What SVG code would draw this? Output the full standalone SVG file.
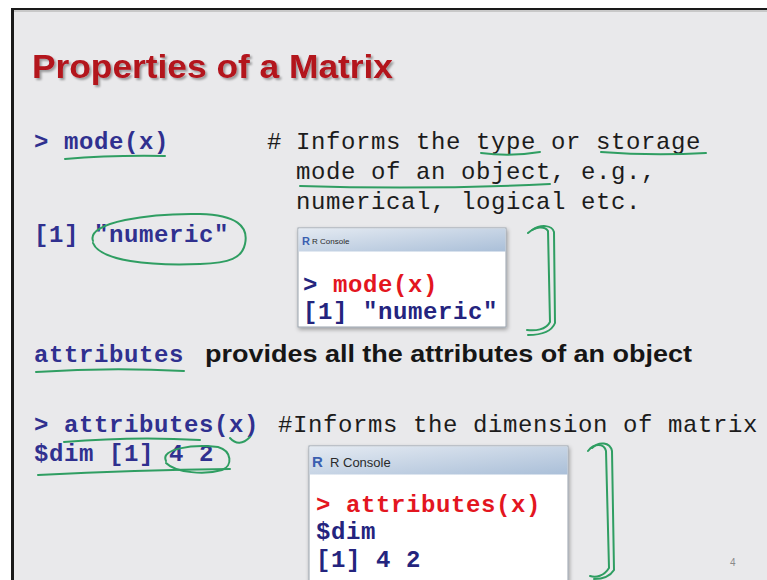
<svg xmlns="http://www.w3.org/2000/svg" width="767" height="580" viewBox="0 0 767 580">
<defs>
<linearGradient id="bar" x1="0" y1="0" x2="1" y2="1">
<stop offset="0" stop-color="#e4eaf2"/>
<stop offset="1" stop-color="#aabfd8"/>
</linearGradient>
<filter id="sh" x="-10%" y="-10%" width="120%" height="130%">
<feGaussianBlur in="SourceAlpha" stdDeviation="2"/>
<feOffset dx="1" dy="2"/>
<feComponentTransfer><feFuncA type="linear" slope="0.35"/></feComponentTransfer>
<feMerge><feMergeNode/><feMergeNode in="SourceGraphic"/></feMerge>
</filter>
<filter id="tsh" x="-5%" y="-20%" width="110%" height="150%">
<feGaussianBlur in="SourceAlpha" stdDeviation="1"/>
<feOffset dx="1.5" dy="1.5"/>
<feComponentTransfer><feFuncA type="linear" slope="0.35"/></feComponentTransfer>
<feMerge><feMergeNode/><feMergeNode in="SourceGraphic"/></feMerge>
</filter>
</defs>
<style>
.code{font-family:"Liberation Mono","Courier New",monospace;font-weight:bold;font-size:24px;letter-spacing:0.6px;fill:#30308f}
.cmt{font-family:"Liberation Mono","Courier New",monospace;font-size:24px;letter-spacing:0.6px;fill:#1c1c1c}
.red{fill:#e3161f}
.navy{fill:#24247e}
.sans{font-family:"Liberation Sans",Arial,sans-serif;font-weight:bold}
.ink{fill:none;stroke:#2f9e62;stroke-width:2;stroke-linecap:round;stroke-linejoin:round}
.box{fill:#ffffff;stroke:#9aa3ad;stroke-width:1}
.ttl{font-family:"Liberation Sans",Arial,sans-serif;fill:#2a2a2a}
.rlogo{font-family:"Liberation Sans",Arial,sans-serif;font-weight:bold;fill:#3a5fb0}
</style>
<rect x="0" y="0" width="767" height="580" fill="#ffffff"/>
<rect x="11" y="8" width="756" height="572" fill="#1a1a1a"/>
<rect x="14" y="10" width="753" height="570" fill="#e9e9eb"/>
<rect x="14" y="10" width="753" height="2" fill="#c8c8c8"/>

<g id="title">
<text x="32" y="78" class="sans" font-size="33" fill="#b3121c" textLength="361" lengthAdjust="spacingAndGlyphs" filter="url(#tsh)">Properties of a Matrix</text>
</g>

<g id="mode-cmd">
<text x="34" y="149" class="code">&gt; mode(x)</text>
</g>
<g id="mode-comment">
<text x="267" y="149" class="cmt">#</text>
<text x="296" y="149" class="cmt">Informs the type or storage</text>
<text x="296" y="179" class="cmt">mode of an object, e.g.,</text>
<text x="296" y="209" class="cmt">numerical, logical etc.</text>
</g>
<g id="mode-result">
<text x="34" y="242" class="code">[1] "numeric"</text>
</g>

<g id="console1">
<rect x="298" y="228" width="208" height="99" class="box" filter="url(#sh)"/>
<rect x="298.5" y="228.5" width="207" height="23" fill="url(#bar)"/>
<text x="302" y="245" class="rlogo" font-size="11">R</text>
<text x="312" y="244" class="ttl" font-size="8">R Console</text>
<text x="303" y="292" class="code navy">&gt;</text>
<text x="333" y="292" class="code red">mode(x)</text>
<text x="303" y="319" class="code navy">[1] "numeric"</text>
</g>

<g id="attributes-desc">
<text x="34" y="362" class="code">attributes</text>
<text x="205" y="362" class="sans" font-size="23" fill="#161616" textLength="487" lengthAdjust="spacingAndGlyphs">provides all the attributes of an object</text>
</g>

<g id="attributes-cmd">
<text x="34" y="432" class="code">&gt; attributes(x)</text>
<text x="278" y="432" class="cmt">#Informs the dimension of matrix</text>
</g>
<g id="attributes-result">
<text x="34" y="461" class="code">$dim [1] 4 2</text>
</g>

<g id="console2">
<rect x="309" y="446" width="259" height="145" class="box" filter="url(#sh)"/>
<rect x="309.5" y="446.5" width="258" height="28" fill="url(#bar)"/>
<text x="312" y="467" class="rlogo" font-size="15">R</text>
<text x="330" y="467" class="ttl" font-size="13">R Console</text>
<text x="316" y="512" class="code red">&gt; attributes(x)</text>
<text x="316" y="539" class="code navy">$dim</text>
<text x="316" y="567" class="code navy">[1] 4 2</text>
</g>

<g id="page-number">
<text x="730" y="566" font-family="Liberation Sans,Arial,sans-serif" font-size="10" fill="#8a8a8a">4</text>
</g>

<g id="annotations">
<path class="ink" d="M65,159 Q112,155 165,156"/>
<path class="ink" d="M93,241 C86,222 150,213 200,214 C236,215 249,226 245,244 C242,258 230,263 200,264 C150,266 100,261 93,243"/>
<path class="ink" d="M481,153 Q510,157 540,152"/>
<path class="ink" d="M601,152 Q652,156 706,153"/>
<path class="ink" d="M300,186 Q425,190 550,184"/>
<path class="ink" d="M528,233 C536,226 545,226 548,231 L550,322 C546,330 535,331 527,330"/>
<path class="ink" d="M532,230 C541,224 552,225 554,232 L555,323 C551,333 540,335 528,335"/>
<path class="ink" d="M36,372 Q110,367 184,371"/>
<path class="ink" d="M64,442 Q135,436 200,440"/>
<path class="ink" d="M230,438 Q239,448 250,437"/>
<path class="ink" d="M166,461 C160,449 192,444 218,447 C232,451 233,466 222,470 C205,475 176,473 166,463"/>
<path class="ink" d="M38,475 Q135,470 230,469"/>
<path class="ink" d="M588,451 C594,443 604,443 606,451 L609,568 C604,576 596,578 590,576"/>
<path class="ink" d="M592,448 C599,441 610,442 612,451 L614,570 C609,578 600,579 594,579"/>
</g>
</svg>
